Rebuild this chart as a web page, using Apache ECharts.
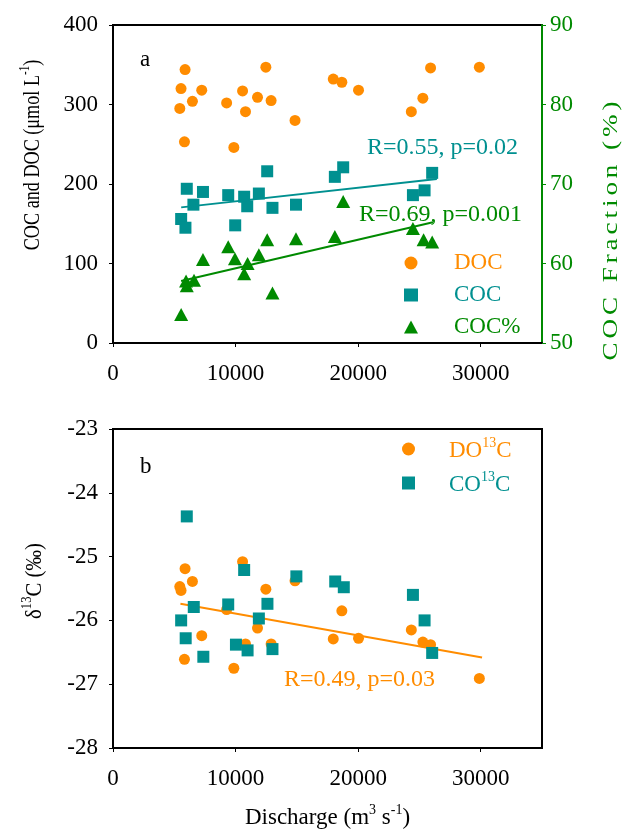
<!DOCTYPE html>
<html>
<head>
<meta charset="utf-8">
<script src="https://cdn.jsdelivr.net/npm/echarts@6/dist/echarts.min.js"></script>
<style>html,body{margin:0;padding:0;background:#fff}#c{width:622px;height:831px}</style>
</head>
<body>
<div id="c"></div>
<script>
// ---- data ----
var dischargeDOC = [5880, 5550, 7240, 6480, 5450, 5830, 9270, 10570, 10810, 11790, 12470, 12900, 14850, 9860, 17970, 18670, 20030, 24340, 25280, 25910, 29890];
var docValues    = [344, 320, 318, 304, 295, 253, 302, 317, 291, 309, 347, 305, 280, 246, 332, 328, 318, 291, 308, 346, 347];
var do13cValues  = [-25.19, -25.53, -26.24, -25.39, -25.47, -26.61, -25.83, -25.08, -26.37, -26.12, -25.51, -26.37, -25.38, -26.75, -26.29, -25.85, -26.28, -26.15, -26.34, -26.38, -26.91];

var dischargeCOC = [6020, 7340, 6560, 5560, 5910, 9400, 10700, 10950, 11900, 12580, 13010, 9970, 14930, 18100, 18780, 24470, 25420, 26040];
var cocValues    = [194, 190, 174, 156, 145, 186, 184, 172, 188, 216, 170, 148, 174, 209, 221, 186, 192, 214];
var cocPctDischarge = [6020, 7340, 6610, 5560, 5960, 9400, 10700, 10980, 11900, 12580, 13010, 9950, 14930, 18100, 18780, 24470, 25340, 26040];
var cocPctValues = [57.2, 60.5, 57.9, 53.6, 57.8, 62.1, 58.7, 60.0, 61.1, 63.0, 56.3, 60.6, 63.1, 63.4, 67.8, 64.4, 63.0, 62.7];
var co13cDischarge = [6020, 7370, 6590, 5560, 5930, 9400, 10700, 10980, 11900, 12600, 13010, 10030, 14960, 18130, 18830, 24470, 25420, 26040];
var co13cValues  = [-24.37, -26.57, -25.79, -26.00, -26.28, -25.75, -25.21, -26.47, -25.97, -25.74, -26.45, -26.38, -25.31, -25.39, -25.48, -25.60, -26.00, -26.51];

// regression lines (end points)
var cocTrendX = [5560, 26420];
var cocTrendY = [170.6, 206.4];
var pctTrendX = [5560, 26100];
var pctTrendY = [57.8, 65.2];
var do13TrendX = [5500, 30110];
var do13TrendY = [-25.74, -26.58];

function pairs(xs, ys) { return xs.map(function (x, i) { return [x, ys[i]]; }); }

var ORANGE = '#FF8C00', TEAL = '#009090', GREEN = '#008A00';
var FONT = 'Liberation Serif';
var FS = 23;

var chart = echarts.init(document.getElementById('c'));

function xAxisCfg(grid, withName) {
  var a = {
    gridIndex: grid, type: 'value', min: 0, max: 35000, interval: 10000,
    axisLine: { show: true, lineStyle: { color: '#000', width: 2 } },
    axisTick: { show: true, inside: false, length: 4, lineStyle: { color: '#000', width: 1 } },
    axisLabel: { fontFamily: FONT, fontSize: FS, color: '#000', margin: 19, showMaxLabel: false,
      formatter: function (v) { return String(v); } },
    splitLine: { show: false }
  };
  if (withName) {
    a.name = '{n|Discharge (m}{s|3}{n| s}{s|-1}{n|)}';
    a.nameLocation = 'middle';
    a.nameGap = 55;
    a.nameTextStyle = { rich: {
      n: { fontFamily: FONT, fontSize: FS, color: '#000', lineHeight: 26, verticalAlign: 'bottom' },
      s: { fontFamily: FONT, fontSize: 14, color: '#000', lineHeight: 26, verticalAlign: 'top' }
    } };
  }
  return a;
}
function yAxisCfg(grid, pos, min, max, interval, color) {
  return {
    gridIndex: grid, type: 'value', position: pos, min: min, max: max, interval: interval,
    axisLine: { show: true, lineStyle: { color: color, width: 2 } },
    axisTick: { show: true, inside: false, length: 4, lineStyle: { color: color, width: 1 } },
    axisLabel: { fontFamily: FONT, fontSize: FS, color: color, margin: pos === 'left' ? 15 : 8 },
    splitLine: { show: false }
  };
}

var supRich = function (c) {
  return {
    n: { fontFamily: FONT, fontSize: FS, color: c, fill: c, lineHeight: 26, verticalAlign: 'bottom' },
    s: { fontFamily: FONT, fontSize: 14, color: c, fill: c, lineHeight: 26, verticalAlign: 'top' }
  };
};

// letter-spaced right axis title
var rightTitle = 'COC Fraction (%)';
var rightTitleRich = rightTitle.split('').map(function (ch) { return '{c|' + ch + '}'; }).join('');

var option = {
  animation: false,
  backgroundColor: '#fff',
  grid: [
    { left: 113, right: 80, top: 25, height: 318, show: true, borderColor: '#000', borderWidth: 2, backgroundColor: 'transparent' },
    { left: 113, right: 80, top: 429, height: 319, show: true, borderColor: '#000', borderWidth: 2, backgroundColor: 'transparent' }
  ],
  xAxis: [xAxisCfg(0, false), xAxisCfg(1, true)],
  yAxis: [
    yAxisCfg(0, 'left', 0, 400, 100, '#000'),
    yAxisCfg(0, 'right', 50, 90, 10, GREEN),
    yAxisCfg(1, 'left', -28, -23, 1, '#000')
  ],
  legend: [
    {
      orient: 'vertical', left: 404, top: 251, padding: 0, itemGap: 8,
      itemWidth: 14, itemHeight: 13, selectedMode: false,
      textStyle: { fontFamily: FONT, fontSize: FS, lineHeight: 24, padding: [0, 0, 0, 31] },
      data: [
        { name: 'DOC', icon: 'circle', textStyle: { color: ORANGE } },
        { name: 'COC', icon: 'rect', textStyle: { color: TEAL } },
        { name: 'COC%', icon: 'triangle', textStyle: { color: GREEN } }
      ]
    },
    {
      orient: 'vertical', left: 402, top: 436, padding: 0, itemGap: 8,
      itemWidth: 13, itemHeight: 13, selectedMode: false,
      textStyle: { fontFamily: FONT, fontSize: FS, lineHeight: 26, padding: [0, 0, 0, 29],
        rich: { o: supRich(ORANGE).n, os: supRich(ORANGE).s, t: supRich(TEAL).n, ts: supRich(TEAL).s } },
      formatter: function (name) {
        return name === 'DO13C' ? '{o|DO}{os|13}{o|C}' : '{t|CO}{ts|13}{t|C}';
      },
      data: [
        { name: 'DO13C', icon: 'circle' },
        { name: 'CO13C', icon: 'rect' }
      ]
    }
  ],
  series: [
    { name: 'DOC', type: 'scatter', xAxisIndex: 0, yAxisIndex: 0, symbol: 'circle', symbolSize: 11,
      itemStyle: { color: ORANGE, opacity: 1 }, data: pairs(dischargeDOC, docValues) },
    { name: 'COC', type: 'scatter', xAxisIndex: 0, yAxisIndex: 0, symbol: 'rect', symbolSize: 12,
      itemStyle: { color: TEAL, opacity: 1 }, data: pairs(dischargeCOC, cocValues) },
    { name: 'COC trend', type: 'line', xAxisIndex: 0, yAxisIndex: 0, symbol: 'none', silent: true,
      lineStyle: { color: TEAL, width: 2 }, data: pairs(cocTrendX, cocTrendY) },
    { name: 'COC%', type: 'scatter', xAxisIndex: 0, yAxisIndex: 1, symbol: 'triangle', symbolSize: [14, 13],
      itemStyle: { color: GREEN, opacity: 1 }, data: pairs(cocPctDischarge, cocPctValues) },
    { name: 'COC% trend', type: 'line', xAxisIndex: 0, yAxisIndex: 1, symbol: 'none', silent: true,
      lineStyle: { color: GREEN, width: 2 }, data: pairs(pctTrendX, pctTrendY) },
    { name: 'DO13C trend', type: 'line', xAxisIndex: 1, yAxisIndex: 2, symbol: 'none', silent: true, z: 1,
      lineStyle: { color: ORANGE, width: 2 }, data: pairs(do13TrendX, do13TrendY) },
    { name: 'DO13C', type: 'scatter', xAxisIndex: 1, yAxisIndex: 2, symbol: 'circle', symbolSize: 11,
      itemStyle: { color: ORANGE, opacity: 1 }, data: pairs(dischargeDOC, do13cValues) },
    { name: 'CO13C', type: 'scatter', xAxisIndex: 1, yAxisIndex: 2, symbol: 'rect', symbolSize: 12,
      itemStyle: { color: TEAL, opacity: 1 }, data: pairs(co13cDischarge, co13cValues) }
  ],
  graphic: [
    { type: 'text', left: 140, top: 48, style: { text: 'a', font: FS + 'px "' + FONT + '"', fill: '#000' } },
    { type: 'text', left: 140, top: 455, style: { text: 'b', font: FS + 'px "' + FONT + '"', fill: '#000' } },
    { type: 'text', left: 367, top: 136, style: { text: 'R=0.55, p=0.02', font: '24px "' + FONT + '"', fill: TEAL } },
    { type: 'text', left: 359, top: 203, style: { text: 'R=0.69, p=0.001', font: '24px "' + FONT + '"', fill: GREEN } },
    { type: 'text', left: 284, top: 668, style: { text: 'R=0.49, p=0.03', font: '24px "' + FONT + '"', fill: ORANGE } },
    { type: 'text', x: 31, y: 155, rotation: Math.PI / 2, scaleX: 0.79,
      style: { text: '{n|COC and DOC (μmol L}{s|-1}{n|)}', rich: supRich('#000'), textAlign: 'center', textVerticalAlign: 'middle' } },
    { type: 'text', x: 611, y: 231, rotation: Math.PI / 2, scaleX: 1.23,
      style: { text: rightTitleRich, textAlign: 'center', textVerticalAlign: 'middle', fill: GREEN,
        rich: { c: { fontFamily: FONT, fontSize: 22, fill: GREEN, padding: [0, 1.6, 0, 1.6] } } } },
    { type: 'text', x: 33, y: 581, rotation: Math.PI / 2, scaleX: 0.9,
      style: { text: '{n|δ}{s|13}{n|C (‰)}', rich: supRich('#000'), textAlign: 'center', textVerticalAlign: 'middle' } }
  ]
};
chart.setOption(option);
</script>
</body>
</html>
